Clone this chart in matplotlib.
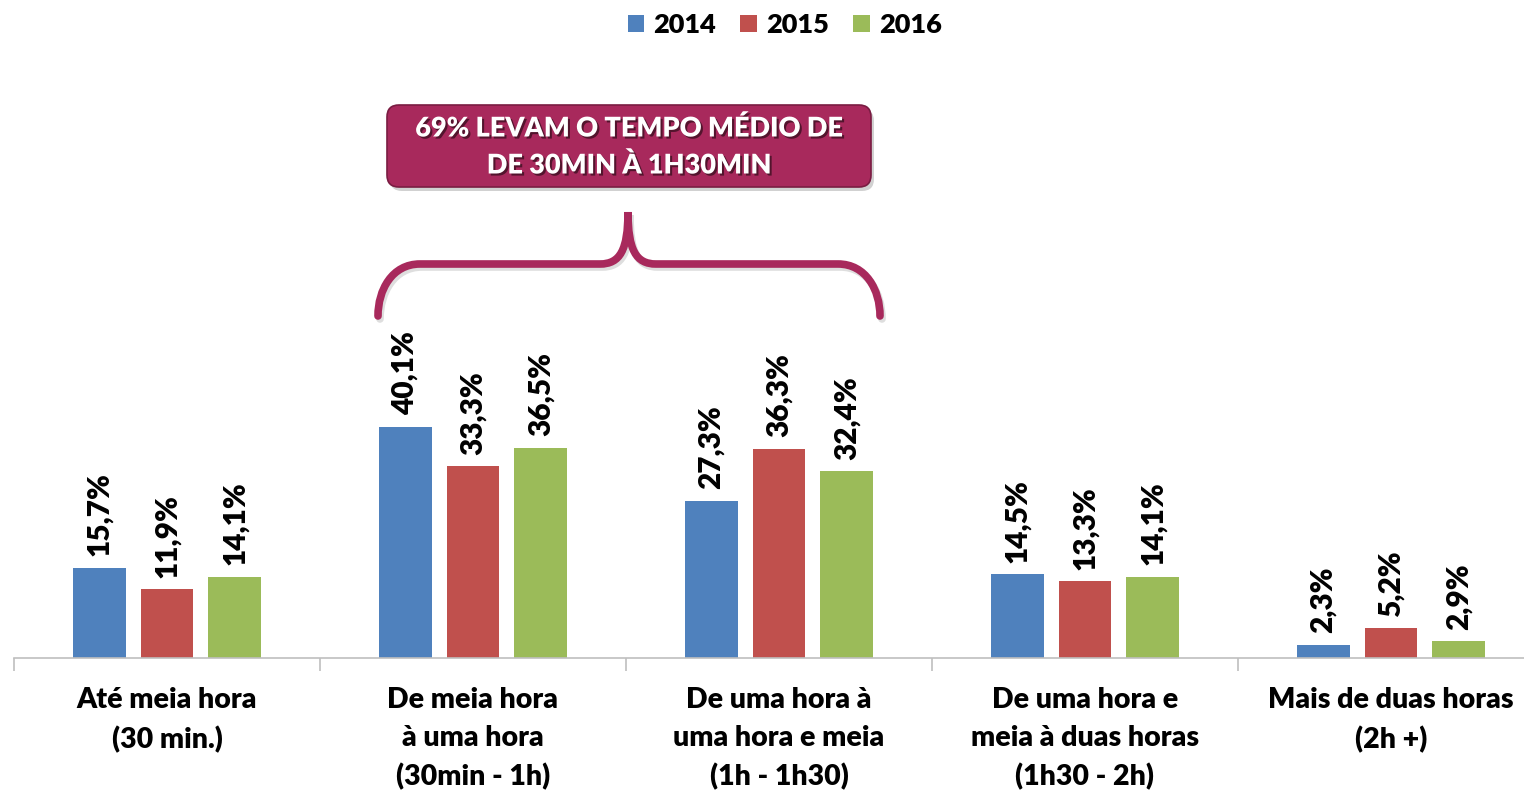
import matplotlib
matplotlib.use("Agg")
import matplotlib.pyplot as plt
import matplotlib.transforms as mtransforms
import matplotlib.patheffects as pe
import numpy as np
from matplotlib.patches import FancyBboxPatch, PathPatch
from matplotlib.path import Path

plt.rcParams['font.family'] = ['Lato', 'DejaVu Sans']
WT = 800  # Lato Heavy, closest to Calibri Bold weight

categories = ["Até meia hora\n(30 min.)",
              "De meia hora\nà uma hora\n(30min - 1h)",
              "De uma hora à\numa hora e meia\n(1h - 1h30)",
              "De uma hora e\nmeia à duas horas\n(1h30 - 2h)",
              "Mais de duas horas\n(2h +)"]
years = ["2014", "2015", "2016"]
v2014 = [15.7, 40.1, 27.3, 14.5, 2.3]
v2015 = [11.9, 33.3, 36.3, 13.3, 5.2]
v2016 = [14.1, 36.5, 32.4, 14.1, 2.9]
colors = ["#4F81BD", "#C0504D", "#9BBB59"]
callout = "69% LEVAM O TEMPO MÉDIO DE\nDE 30MIN À 1H30MIN"
MAGENTA = "#A8295C"

W, H = 1524, 792
fig = plt.figure(figsize=(W / 100, H / 100), dpi=100)
ax = fig.add_axes([14 / W, 134 / H, 1530 / W, 658 / H])

x = np.arange(len(categories))
bw, step = 0.173, 0.222
for i, (vals, yr) in enumerate(zip([v2014, v2015, v2016], years)):
    pos = x + (i - 1) * step
    ax.bar(pos, vals, bw, color=colors[i], label=yr, zorder=2)
    for p, v in zip(pos, vals):
        ax.text(p, v + 2.0, f"{v:.1f}".replace('.', ',') + '%', rotation=90,
                ha='center', va='bottom', fontsize=21.5, fontweight=WT)

ax.set_xlim(-0.5, len(categories) - 0.5)
ax.set_ylim(0, 114.2)
for s in ['left', 'right', 'top']:
    ax.spines[s].set_visible(False)
ax.spines['bottom'].set_color('#BFBFBF')
ax.spines['bottom'].set_linewidth(1.2)
ax.set_yticks([])
ax.set_xticks(x)
ax.set_xticklabels(categories, fontsize=20.5, fontweight=WT, linespacing=1.55)
ax.tick_params(axis='x', which='major', length=0, pad=21)
ax.set_xticks(np.arange(-0.5, len(categories)), minor=True)
ax.tick_params(axis='x', which='minor', length=9, color='#BFBFBF', width=1.2)

leg = fig.legend(loc='upper center', bbox_to_anchor=(0.515, 1.014), ncol=3,
                 frameon=False, fontsize=19.5, handlelength=0.6, handleheight=0.6,
                 handletextpad=0.35, columnspacing=0.9)
for t in leg.get_texts():
    t.set_fontweight(WT)

# pixel coords, y from top
px = mtransforms.Affine2D().scale(1 / W, -1 / H).translate(0, 1) + fig.transFigure

# callout box with shadow
shadow = FancyBboxPatch((390, 109), 484, 82, boxstyle="round,pad=0,rounding_size=12",
                        transform=px, facecolor='#000000', alpha=0.18,
                        edgecolor='none', zorder=3)
box = FancyBboxPatch((387, 105), 484, 82, boxstyle="round,pad=0,rounding_size=12",
                     transform=px, facecolor=MAGENTA, edgecolor='#7A1C42',
                     linewidth=1.2, zorder=4)
fig.patches.extend([shadow, box])
lines = callout.split('\n')
for ln, yy in zip(lines, [128, 165]):
    fig.text(629 / W, 1 - yy / H, ln, ha='center', va='center', color='white',
             fontsize=19.5, fontweight=WT, zorder=5,
             path_effects=[pe.withSimplePatchShadow(offset=(1.5, -1.5),
                                                    shadow_rgbFace='black', alpha=0.5)])

# curly brace
verts = [(378, 316), (378, 290), (392, 264), (420, 264),
         (600, 264),
         (620, 264), (628, 250), (628, 212),
         (628, 250), (636, 264), (656, 264),
         (838, 264),
         (866, 264), (880, 290), (880, 316)]
codes = [Path.MOVETO, Path.CURVE4, Path.CURVE4, Path.CURVE4,
         Path.LINETO,
         Path.CURVE4, Path.CURVE4, Path.CURVE4,
         Path.CURVE4, Path.CURVE4, Path.CURVE4,
         Path.LINETO,
         Path.CURVE4, Path.CURVE4, Path.CURVE4]
brace_shadow = PathPatch(Path([(a + 2, b + 3) for a, b in verts], codes), transform=px,
                         facecolor='none', edgecolor='#000000', alpha=0.13,
                         linewidth=5.5, capstyle='round', zorder=3)
brace = PathPatch(Path(verts, codes), transform=px, facecolor='none',
                  edgecolor=MAGENTA, linewidth=5.5, capstyle='round', zorder=4)
fig.patches.extend([brace_shadow, brace])

fig.savefig("out.png", dpi=100)
